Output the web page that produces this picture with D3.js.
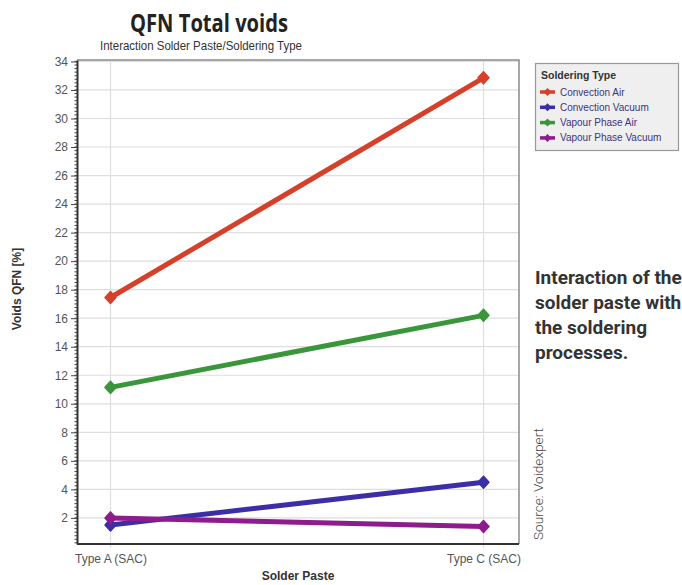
<!DOCTYPE html>
<html>
<head>
<meta charset="utf-8">
<script src="https://cdn.jsdelivr.net/npm/d3@7"></script>
<style>
  body { margin: 0; background: #fff; }
  svg { display: block; }
</style>
</head>
<body>
<div id="chart"></div>
<script>
// categories and series
let pastes = ["Type A (SAC)", "Type C (SAC)"];
let seriesNames = ["Convection Air", "Convection Vacuum", "Vapour Phase Air", "Vapour Phase Vacuum"];
let convectionAir = [17.45, 32.85];
let convectionVacuum = [1.5, 4.5];
let vapourPhaseAir = [11.15, 16.2];
let vapourPhaseVacuum = [2.0, 1.4];
let yTicks = [2, 4, 6, 8, 10, 12, 14, 16, 18, 20, 22, 24, 26, 28, 30, 32, 34];
let noteLines = ["Interaction of the", "solder paste with", "the soldering", "processes."];

let colors = ["#d6402a", "#3b2ea6", "#3a963a", "#8e1c8c"];

let svg = d3.select("#chart")
    .append("svg")
    .attr("width", 682)
    .attr("height", 585);

let margin = {left: 77, top: 60, right: 519, bottom: 544};

let x = d3.scalePoint()
    .domain(pastes)
    .range([110.5, 483.5]);

let y = d3.scaleLinear()
    .domain([0.17, 34.1])
    .range([margin.bottom, margin.top]);

//grid lines
svg.append("g")
    .selectAll("line")
    .data(yTicks)
    .enter()
    .append("line")
    .attr("x1", margin.left).attr("x2", margin.right)
    .attr("y1", d => y(d)).attr("y2", d => y(d))
    .attr("stroke", "#dedede").attr("stroke-width", 1.2);
svg.append("g")
    .selectAll("line")
    .data(pastes)
    .enter()
    .append("line")
    .attr("x1", d => x(d)).attr("x2", d => x(d))
    .attr("y1", margin.top).attr("y2", margin.bottom + 4)
    .attr("stroke", "#dedede").attr("stroke-width", 1.2);

//plot frame (top and right)
svg.append("path")
    .attr("d", "M" + margin.left + "," + margin.top + "H" + margin.right + "V" + margin.bottom)
    .attr("fill", "none")
    .attr("stroke", "#8a8a8a")
    .attr("stroke-width", 1.5);

//y axis with minor ticks
let minor = d3.range(0.25, 34.01, 0.25);
svg.append("g")
    .selectAll("line")
    .data(minor)
    .enter()
    .append("line")
    .attr("x1", margin.left - 2.5).attr("x2", margin.left)
    .attr("y1", d => y(d)).attr("y2", d => y(d))
    .attr("stroke", "#444").attr("stroke-width", 1);

let yAxis = svg.append("g")
    .attr("transform", "translate(" + margin.left + ",0)")
    .call(d3.axisLeft(y).tickValues(yTicks).tickSize(6).tickPadding(3).tickSizeOuter(0));
yAxis.select(".domain").attr("stroke", "#333").attr("stroke-width", 2);
yAxis.selectAll(".tick line").attr("stroke", "#444");
yAxis.selectAll("text")
    .style("font-family", "'Liberation Sans Narrow', 'Liberation Sans', Arial, sans-serif")
    .style("font-size", "12px")
    .attr("fill", "#555");

//x axis
let xAxis = svg.append("g")
    .attr("transform", "translate(0," + margin.bottom + ")")
    .call(d3.axisBottom(x).tickSize(0).tickPadding(10));
xAxis.select(".domain")
    .attr("d", "M" + margin.left + ",0H" + margin.right)
    .attr("stroke", "#333").attr("stroke-width", 2);
xAxis.selectAll("text")
    .style("font-family", "'Liberation Sans Narrow', 'Liberation Sans', Arial, sans-serif")
    .style("font-size", "12px")
    .attr("fill", "#555");

//series
let allSeries = [convectionAir, convectionVacuum, vapourPhaseAir, vapourPhaseVacuum];
let dataReady = seriesNames.map(function(name, i) {
    return {
        name: name,
        color: colors[i],
        values: pastes.map(function(p, j) { return {paste: p, value: allSeries[i][j]}; })
    };
});

let line = d3.line()
    .x(d => x(d.paste))
    .y(d => y(d.value));

// flatter diamond than d3.symbolDiamond
function diamondPath(w, h) {
    return "M0," + (-h) + "L" + w + ",0L0," + h + "L" + (-w) + ",0Z";
}

let groups = svg.selectAll("mySeries")
    .data(dataReady)
    .enter()
    .append("g");
groups.append("path")
    .attr("d", d => line(d.values))
    .attr("stroke", d => d.color)
    .attr("stroke-width", 5)
    .attr("stroke-linecap", "round")
    .attr("fill", "none");
groups.selectAll("myPoints")
    .data(d => d.values.map(v => ({paste: v.paste, value: v.value, color: d.color})))
    .enter()
    .append("path")
    .attr("d", diamondPath(5.5, 6))
    .attr("transform", d => "translate(" + x(d.paste) + "," + y(d.value) + ")")
    .attr("fill", d => d.color)
    .attr("stroke", d => d.color)
    .attr("stroke-width", 1.5)
    .attr("stroke-linejoin", "round");

//titles
svg.append("text")
    .attr("x", 209).attr("y", 32)
    .attr("text-anchor", "middle")
    .attr("textLength", 158).attr("lengthAdjust", "spacingAndGlyphs")
    .style("font-family", "'Open Sans', sans-serif")
    .style("font-weight", "bold")
    .style("font-size", "25px")
    .attr("fill", "#222")
    .text("QFN Total voids");
svg.append("text")
    .attr("x", 201).attr("y", 50)
    .attr("text-anchor", "middle")
    .attr("textLength", 202).attr("lengthAdjust", "spacingAndGlyphs")
    .style("font-family", "'Liberation Sans', Arial, sans-serif")
    .style("font-size", "13px")
    .attr("fill", "#333")
    .text("Interaction Solder Paste/Soldering Type");

//axis titles
svg.append("text")
    .attr("transform", "translate(21,289) rotate(-90)")
    .attr("text-anchor", "middle")
    .style("font-family", "'Liberation Sans', Arial, sans-serif")
    .style("font-weight", "bold")
    .style("font-size", "12px")
    .attr("fill", "#333")
    .text("Voids QFN [%]");
svg.append("text")
    .attr("x", 298).attr("y", 580)
    .attr("text-anchor", "middle")
    .style("font-family", "'Liberation Sans', Arial, sans-serif")
    .style("font-weight", "bold")
    .style("font-size", "12px")
    .attr("fill", "#333")
    .text("Solder Paste");

//legend
let legend = svg.append("g");
legend.append("rect")
    .attr("x", 535.5).attr("y", 63.5)
    .attr("width", 143).attr("height", 87)
    .attr("fill", "#efefef")
    .attr("stroke", "#999").attr("stroke-width", 1.2);
legend.append("text")
    .attr("x", 541).attr("y", 79)
    .style("font-family", "'Liberation Sans', Arial, sans-serif")
    .style("font-weight", "bold")
    .style("font-size", "10.5px")
    .attr("fill", "#333")
    .text("Soldering Type");
let items = legend.selectAll("myLegend")
    .data(dataReady)
    .enter()
    .append("g")
    .attr("transform", (d, i) => "translate(0," + (92 + i * 15.3) + ")");
items.append("line")
    .attr("x1", 540).attr("x2", 555)
    .attr("stroke", d => d.color).attr("stroke-width", 3.5);
items.append("path")
    .attr("d", diamondPath(4, 4))
    .attr("transform", "translate(547.5,0)")
    .attr("fill", d => d.color);
items.append("text")
    .attr("x", 560).attr("y", 3.5)
    .style("font-family", "'Liberation Sans', Arial, sans-serif")
    .style("font-size", "10px")
    .attr("fill", "#3d3580")
    .text(d => d.name);

//side note
svg.append("g")
    .selectAll("text")
    .data(noteLines)
    .enter()
    .append("text")
    .attr("x", 535)
    .attr("y", (d, i) => 284 + i * 25)
    .style("font-family", "Roboto, sans-serif")
    .style("font-weight", "bold")
    .style("font-size", "19px")
    .attr("fill", "#333")
    .text(d => d);

svg.append("text")
    .attr("transform", "translate(543,540) rotate(-90)")
    .style("font-family", "Roboto, sans-serif")
    .style("font-weight", 300)
    .style("font-size", "13px")
    .attr("textLength", 112).attr("lengthAdjust", "spacingAndGlyphs")
    .attr("fill", "#444")
    .text("Source: Voidexpert");
</script>
</body>
</html>
